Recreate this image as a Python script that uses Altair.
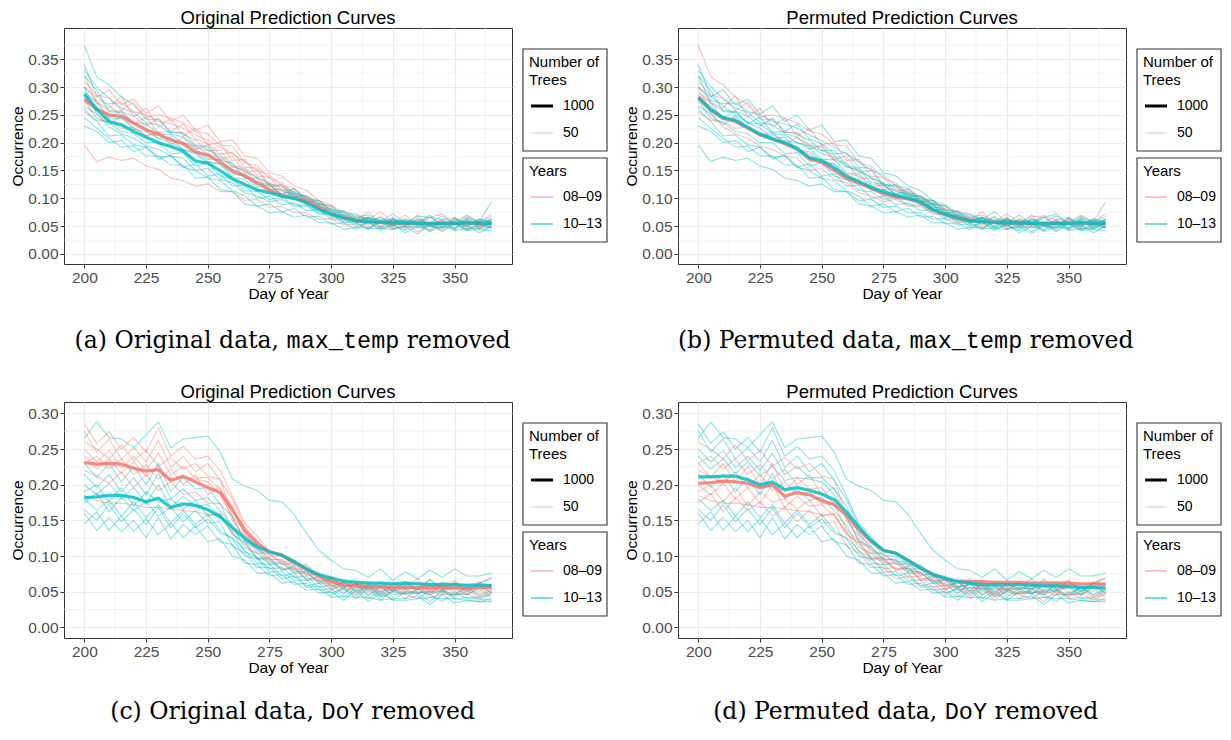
import altair as alt
import pandas as pd

# ---------------- data (occurrence values in thousandths) ----------------
DAYS = list(range(200, 366, 5))
X_TICKS = [200, 225, 250, 275, 300, 325, 350]
X_MINOR = [212.5, 237.5, 262.5, 287.5, 312.5, 337.5, 362.5]
Y_TICKS_TOP = [0, 0.05, 0.10, 0.15, 0.20, 0.25, 0.30, 0.35]
Y_MINOR_TOP = [0.025, 0.075, 0.125, 0.175, 0.225, 0.275, 0.325, 0.375]
Y_TICKS_BOT = [0, 0.05, 0.10, 0.15, 0.20, 0.25, 0.30]
Y_MINOR_BOT = [0.025, 0.075, 0.125, 0.175, 0.225, 0.275]
YEARS = ["08–09", "10–13"]

# 50-tree curves, top row (max_temp removed)
TOP_NAMES = ["P1", "P2", "P3", "P4", "P5", "P6", "P7", "P8", "P9",
             "C1", "C2", "C3", "C4", "C5", "C6", "C7", "C8", "C9", "C10"]
P1 = [300,282,295,268,278,252,266,238,250,222,232,202,205,176,172,146,140,122,114,96,88,74,72,62,76,56,70,52,66,72,54,68,58,72]
P2 = [285,272,262,284,246,262,228,244,212,226,196,200,168,170,140,138,114,116,94,96,76,72,60,76,54,66,50,70,48,62,66,50,64,56]
P3 = [320,270,258,256,248,230,244,220,234,206,198,180,182,156,154,124,124,104,104,86,78,64,58,66,46,62,44,64,52,46,66,48,62,46]
P4 = [265,252,232,248,226,214,214,204,200,194,180,174,156,152,128,126,106,106,88,88,66,66,62,56,56,52,54,56,44,60,46,62,44,58]
P5 = [195,166,174,168,172,158,152,136,132,122,126,112,112,96,98,84,86,74,74,62,64,52,54,46,58,44,56,40,54,42,58,44,48,52]
P6 = [310,286,280,258,272,246,250,244,236,220,216,196,194,164,158,136,128,108,104,90,86,68,66,52,68,48,64,50,54,62,44,66,48,64]
P7 = [280,266,244,258,234,246,218,220,216,204,186,186,160,154,136,128,112,108,96,90,72,70,56,62,50,64,48,62,58,54,52,56,56,60]
P8 = [255,240,238,226,228,212,220,196,210,188,196,170,176,146,150,120,124,98,100,80,80,60,64,48,58,50,60,46,56,48,62,46,52,50]
P9 = [300,276,270,272,256,250,238,234,226,214,204,192,180,166,150,142,122,118,100,96,80,76,60,66,54,60,50,64,50,58,52,60,48,56]
C1 = [375,318,304,282,268,242,242,218,218,196,192,168,164,136,136,116,116,104,102,84,82,66,66,64,62,60,60,56,70,48,62,58,58,94]
C2 = [340,284,266,250,236,226,208,210,186,184,166,162,138,134,114,116,104,108,92,88,68,70,54,66,48,64,52,54,56,58,46,62,50,62]
C3 = [300,252,228,216,208,194,188,176,172,150,154,134,128,110,104,94,98,86,86,72,70,56,58,44,60,46,48,48,50,46,58,42,54,46]
C4 = [260,238,212,214,196,192,174,176,156,150,136,132,114,104,86,90,76,82,66,68,54,56,44,58,42,54,38,50,42,56,42,46,46,48]
C5 = [320,294,256,254,236,234,216,214,200,190,170,170,146,144,124,124,108,112,96,92,74,76,62,64,60,62,58,60,56,68,54,64,58,62]
C6 = [245,226,208,192,194,176,176,160,160,136,138,116,112,90,86,74,76,66,70,56,56,44,48,46,46,44,50,36,52,40,54,42,44,42]
C7 = [290,274,242,244,224,220,208,200,188,180,164,162,144,140,120,124,106,118,98,96,78,78,66,70,58,72,56,68,66,62,58,70,56,68]
C8 = [275,244,236,220,216,200,200,180,182,158,164,140,134,114,112,98,102,88,88,74,72,58,58,56,56,52,54,52,56,54,54,50,60,48]
C9 = [230,220,200,204,184,192,170,178,156,162,140,144,122,124,100,104,88,92,78,80,62,64,50,56,46,52,42,56,40,50,44,52,38,50]
C10 = [330,300,280,262,254,236,232,216,210,194,186,178,158,148,138,126,120,110,104,90,86,70,70,60,66,56,62,58,66,52,64,54,62,58]
TOP_THIN = [P1, P2, P3, P4, P5, P6, P7, P8, P9, C1, C2, C3, C4, C5, C6, C7, C8, C9, C10]
YEARS_A = ["08–09"] * 9 + ["10–13"] * 10
YEARS_B = ["10–13", "08–09", "10–13", "10–13", "10–13", "08–09", "10–13", "08–09", "10–13",
           "08–09", "10–13", "08–09", "10–13", "10–13", "10–13", "08–09", "10–13", "10–13", "10–13"]

# 50-tree curves, bottom row (DoY removed)
BOT_NAMES = ["Q1", "Q2", "Q3", "Q4", "Q5", "Q6", "Q7", "Q8",
             "R1", "R2", "R3", "R4", "R5", "R6", "R7", "R8", "R9", "R10"]
Q1 = [285,258,274,250,266,246,280,240,254,236,240,220,184,146,128,106,104,88,88,72,72,58,60,64,50,62,52,64,48,60,66,52,62,68]
Q2 = [260,250,236,256,234,248,226,238,222,230,212,208,156,134,108,102,92,92,74,74,58,62,62,54,58,50,56,68,50,46,62,50,60,48]
Q3 = [240,222,236,216,232,212,226,206,210,208,204,186,154,122,112,96,94,80,78,62,62,48,62,46,58,42,54,46,60,48,44,56,46,54]
Q4 = [220,212,202,218,196,214,192,204,186,190,174,174,136,122,98,96,82,82,66,66,52,64,48,58,44,54,46,40,52,54,42,52,42,50]
Q5 = [275,246,264,236,252,232,262,224,240,218,230,206,180,140,122,100,100,86,86,70,70,56,60,58,58,54,56,54,58,56,60,46,64,54]
Q6 = [185,178,174,174,172,168,168,166,164,162,158,158,132,118,96,94,80,84,68,68,54,58,46,60,44,56,40,54,42,46,46,48,38,48]
Q7 = [250,232,248,224,240,220,244,214,226,210,210,194,170,130,114,94,96,82,82,66,66,52,56,54,54,52,64,48,52,52,56,44,58,48]
Q8 = [230,240,222,236,214,228,208,222,200,214,186,196,150,128,104,104,88,90,72,76,58,64,52,62,48,58,50,58,46,62,48,56,50,60]
R1 = [265,288,266,264,252,270,288,252,264,266,268,246,208,198,192,178,176,158,132,108,94,82,80,70,82,66,78,68,80,70,82,72,72,76]
R2 = [180,164,178,156,176,154,172,146,164,144,158,136,124,100,96,78,78,66,66,52,54,42,56,40,52,38,50,50,46,36,50,40,40,38]
R3 = [160,136,154,134,150,126,154,124,144,130,142,120,116,90,88,72,74,60,62,48,50,38,52,36,48,38,38,40,42,40,40,38,36,36]
R4 = [200,186,202,180,196,174,200,168,184,170,172,156,134,106,98,82,84,70,72,56,60,46,62,44,56,46,48,48,50,50,46,46,54,42]
R5 = [175,188,162,182,164,176,156,168,148,164,146,148,114,104,84,84,68,72,56,58,44,56,40,54,38,52,48,48,36,52,40,42,42,46]
R6 = [215,196,214,190,210,186,216,180,194,178,182,164,142,112,104,88,90,76,76,62,66,54,68,50,64,52,54,54,66,52,64,50,62,58]
R7 = [145,162,136,156,134,152,130,146,126,142,120,124,100,94,76,76,62,64,52,54,42,44,42,42,38,40,40,44,32,46,34,38,36,40]
R8 = [230,210,230,204,226,200,230,190,210,194,196,172,156,120,110,90,92,78,78,64,68,56,60,58,62,50,64,52,68,54,56,56,58,60]
R9 = [190,200,176,196,170,190,176,180,166,178,156,160,130,118,96,98,80,86,66,72,56,64,50,60,46,62,54,58,52,64,56,60,62,70]
R10 = [165,150,172,148,166,144,168,140,160,140,152,132,126,108,90,88,72,76,58,62,48,54,44,56,42,50,46,54,46,52,46,56,44,52]
BOT_THIN = [Q1, Q2, Q3, Q4, Q5, Q6, Q7, Q8, R1, R2, R3, R4, R5, R6, R7, R8, R9, R10]
YEARS_C = ["08–09"] * 8 + ["10–13"] * 10
YEARS_D = ["10–13", "08–09", "10–13", "08–09", "10–13", "08–09", "10–13", "08–09",
           "10–13", "10–13", "10–13", "08–09", "08–09", "10–13", "10–13", "08–09", "08–09", "10–13"]

# 1000-tree curves
A_PINK = [278,260,250,247,235,223,215,205,198,183,178,165,150,140,128,115,105,100,95,83,72,65,60,58,57,56,56,55,54,55,55,56,55,55]
A_CYAN = [287,260,238,232,220,210,200,193,185,167,163,150,135,125,115,110,104,100,92,80,72,65,60,58,57,56,56,55,54,55,55,56,55,55]
B_PINK = [280,258,244,238,226,214,206,198,188,170,165,150,136,127,118,108,102,99,92,79,71,64,60,58,57,56,55,55,54,55,55,56,55,55]
B_CYAN = [282,260,245,240,228,215,207,200,190,173,168,155,140,130,120,112,105,100,94,80,72,65,60,58,57,56,56,55,54,55,55,56,55,55]
C_PINK = [231,229,230,229,223,219,221,206,212,204,196,189,165,136,118,106,101,92,81,72,64,60,58,57,57,56,57,55,56,56,55,55,56,56]
C_CYAN = [182,183,185,185,182,176,181,168,173,171,165,155,140,125,113,106,101,92,82,74,69,65,63,62,62,61,62,61,60,60,60,59,59,59]
D_PINK = [202,203,205,204,202,196,200,184,189,186,178,172,157,137,120,108,104,94,83,75,67,65,64,64,63,63,63,62,62,62,62,61,61,61]
D_CYAN = [211,211,212,212,207,200,204,193,196,192,187,179,162,141,122,108,104,94,83,74,69,64,62,60,60,60,60,59,58,58,57,56,56,55]

# ---------------- styling ----------------
FONT = "Liberation Sans"
PINK, CYAN = "#F8766D", "#00BFC4"
W, H = 448, 236
X_DOMAIN = [191.75, 373.25]
SERIF = "DejaVu Serif"
MONO = "Liberation Mono"
CAP_FS = 23.5
SERIF_W = {' ': .318, '(': .390, ')': .390, ',': .318, 'a': .596, 'b': .640, 'c': .560,
           'd': .640, 'e': .592, 'g': .640, 'i': .320, 'l': .320, 'm': .948, 'n': .644,
           'o': .602, 'r': .478, 't': .402, 'u': .644, 'v': .565, 'O': .787, 'P': .733}


def serif_width(s):
    return sum(SERIF_W.get(ch, .6) for ch in s) * CAP_FS


ONE = pd.DataFrame({"k": [0]})


def thin_frame(names, curves, years):
    rows = []
    for n, c, yr in zip(names, curves, years):
        for d, v in zip(DAYS, c):
            rows.append({"day": d, "occ": v / 1000, "curve": n, "year": yr})
    return pd.DataFrame(rows)


def bold_frame(pink, cyan):
    rows = []
    for yr, c in (("08–09", pink), ("10–13", cyan)):
        for d, v in zip(DAYS, c):
            rows.append({"day": d, "occ": v / 1000, "curve": "bold" + yr, "year": yr})
    return pd.DataFrame(rows)


def txt(s, x, y, size=14.5, align="left", font=FONT, color="black", baseline="middle"):
    return alt.Chart(ONE).mark_text(text=s, align=align, baseline=baseline, fontSize=size,
                                    font=font, color=color).encode(
        x=alt.value(x), y=alt.value(y))


def hline(x1, x2, y, color, width, opacity=1.0):
    return alt.Chart(ONE).mark_rule(color=color, strokeWidth=width, opacity=opacity).encode(
        x=alt.value(x1), x2=alt.value(x2), y=alt.value(y))


def box(x1, x2, y1, y2):
    return alt.Chart(ONE).mark_rect(fillOpacity=0, stroke="#333333", strokeWidth=1.1).encode(
        x=alt.value(x1), x2=alt.value(x2), y=alt.value(y1), y2=alt.value(y2))


def panel(title, thin_df, bold_df, ydom, yticks, yminor, caption, cap_center, cap_base):
    xsc = alt.Scale(domain=X_DOMAIN, nice=False, zero=False)
    ysc = alt.Scale(domain=ydom, nice=False, zero=False)
    xax = alt.Axis(values=X_TICKS, title="Day of Year", format="d")
    yax = alt.Axis(values=yticks, title="Occurrence", format=".2f")
    cscale = alt.Scale(domain=YEARS, range=[PINK, CYAN])

    minor_x = alt.Chart(pd.DataFrame({"day": X_MINOR})).mark_rule(
        color="#EBEBEB", strokeWidth=0.6).encode(x=alt.X("day:Q", scale=xsc, axis=xax))
    minor_y = alt.Chart(pd.DataFrame({"occ": yminor})).mark_rule(
        color="#EBEBEB", strokeWidth=0.6).encode(y=alt.Y("occ:Q", scale=ysc, axis=yax))

    def lines(df, yr, sw, op):
        return alt.Chart(df[df["year"] == yr]).mark_line(strokeWidth=sw, opacity=op).encode(
            x=alt.X("day:Q", scale=xsc, axis=xax),
            y=alt.Y("occ:Q", scale=ysc, axis=yax),
            color=alt.Color("year:N", scale=cscale, legend=None),
            detail="curve:N")

    layers = [minor_x, minor_y,
              lines(thin_df, "08–09", 1.1, 0.45), lines(thin_df, "10–13", 1.1, 0.45),
              lines(bold_df, "08–09", 3.2, 0.85), lines(bold_df, "10–13", 3.2, 0.85)]

    # legends (drawn beside the plot)
    layers += [
        box(459, 543, 21, 123),
        txt("Number of", 465, 34, 15), txt("Trees", 465, 52, 15),
        hline(467, 489, 78, "black", 3), txt("1000", 499, 78, 14),
        hline(467, 489, 105, "#C8C8C8", 1), txt("50", 499, 105, 14),
        box(459, 543, 130, 214),
        txt("Years", 465, 143, 15),
        hline(467, 489, 169, PINK, 1.5, 0.6), txt("08–09", 499, 169, 14),
        hline(467, 489, 196, CYAN, 1.5, 0.7), txt("10–13", 499, 196, 14),
    ]

    # caption with typewriter word
    pre, mono, post = caption
    gap = SERIF_W[' '] * CAP_FS
    mono_w = 0.6 * CAP_FS * len(mono)
    total = serif_width(pre) + gap + mono_w + gap + serif_width(post)
    left = cap_center - total / 2
    m_left = left + serif_width(pre) + gap
    layers += [
        txt(pre, m_left - gap, cap_base, CAP_FS, "right", SERIF, baseline="alphabetic"),
        txt(mono, m_left, cap_base, CAP_FS, "left", MONO, baseline="alphabetic"),
        txt(post, m_left + mono_w + gap, cap_base, CAP_FS, "left", SERIF, baseline="alphabetic"),
    ]

    return alt.layer(*layers).properties(
        width=W, height=H,
        title=alt.TitleParams(title, fontSize=18.5, fontWeight="normal", font=FONT,
                              anchor="middle", offset=0, color="black"))


pa = panel("Original Prediction Curves", thin_frame(TOP_NAMES, TOP_THIN, YEARS_A),
           bold_frame(A_PINK, A_CYAN), [-0.018, 0.406], Y_TICKS_TOP, Y_MINOR_TOP,
           ("(a) Original data,", "max_temp", "removed"), 229, 320)
pb = panel("Permuted Prediction Curves", thin_frame(TOP_NAMES, TOP_THIN, YEARS_B),
           bold_frame(B_PINK, B_CYAN), [-0.018, 0.406], Y_TICKS_TOP, Y_MINOR_TOP,
           ("(b) Permuted data,", "max_temp", "removed"), 226.5, 320)
pc = panel("Original Prediction Curves", thin_frame(BOT_NAMES, BOT_THIN, YEARS_C),
           bold_frame(C_PINK, C_CYAN), [-0.015, 0.316], Y_TICKS_BOT, Y_MINOR_BOT,
           ("(c) Original data,", "DoY", "removed"), 229, 317)
pd_ = panel("Permuted Prediction Curves", thin_frame(BOT_NAMES, BOT_THIN, YEARS_D),
            bold_frame(D_PINK, D_CYAN), [-0.015, 0.316], Y_TICKS_BOT, Y_MINOR_BOT,
            ("(d) Permuted data,", "DoY", "removed"), 226.5, 317)

chart = alt.concat(pa, pb, pc, pd_, columns=2, spacing={"row": 138, "column": 166},
                   bounds="flush").properties(
    padding={"left": 2, "top": 0, "right": 0, "bottom": 4}
).configure(font=FONT).configure_view(
    stroke="#333333", strokeWidth=1
).configure_axis(
    labelFont=FONT, titleFont=FONT, labelFontSize=15.5, titleFontSize=15.5,
    labelColor="#4D4D4D", titleColor="black", titleFontWeight="normal",
    tickColor="#333333", tickSize=4, domain=False, gridColor="#EBEBEB", gridWidth=1.2,
    labelPadding=2
).configure_axisX(titlePadding=1).configure_axisY(titlePadding=2)

chart.save("out.html", embed_options={"renderer": "svg", "actions": False})
